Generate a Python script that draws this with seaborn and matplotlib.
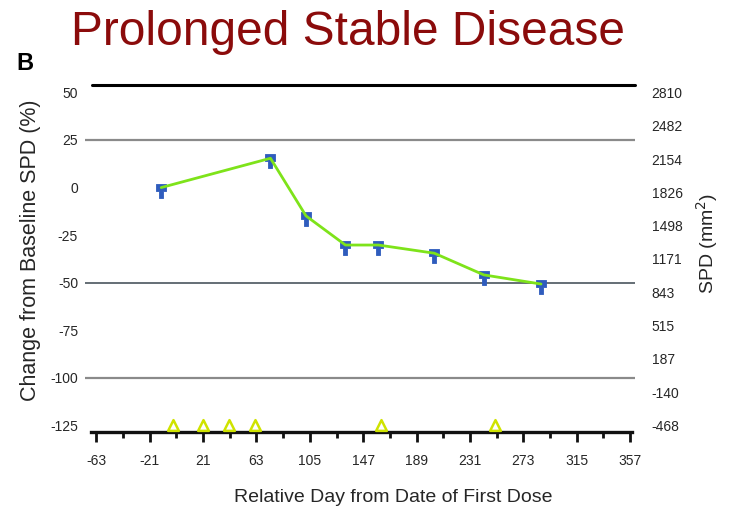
import numpy as np
import pandas as pd
import matplotlib
matplotlib.use("Agg")
import matplotlib.pyplot as plt
from matplotlib.path import Path
from matplotlib.markers import MarkerStyle
import seaborn as sns

# Tumour measurements: relative study day and % change from baseline SPD
assess_days = [-12, 74, 102, 133, 159, 203, 242, 287]
pct_change = [0, 15.4, -14.9, -30.2, -30.2, -34.5, -45.9, -50.7]

# Dosing days marked along the time axis
dose_days = [-3, 21, 41, 62, 161, 251]

# Axis ticks
x_major = [-63, -21, 21, 63, 105, 147, 189, 231, 273, 315, 357]
x_minor = [-42, 0, 42, 84, 126, 168, 210, 252, 294, 336]
left_ticks = [50, 25, 0, -25, -50, -75, -100, -125]
spd_labels = ["2810", "2482", "2154", "1826", "1498", "1171",
              "843", "515", "187", "-140", "-468"]

sns.set_theme(style="white")
plt.rcParams["font.family"] = ["Liberation Sans", "DejaVu Sans"]

fig = plt.figure(figsize=(7.29, 5.12), dpi=100)
ax = fig.add_axes([0.1166, 0.1557, 0.7545, 0.6783])

YMIN, YMAX = -128.6, 53.9
ax.set_xlim(-72, 361)
ax.set_ylim(YMIN, YMAX)

# Horizontal reference lines
ax.axhline(25, color="#8a8a8a", lw=1.6, zorder=1)
ax.axhline(-50, color="#3b4650", lw=1.1, zorder=1)
ax.axhline(-100, color="#8a8a8a", lw=1.6, zorder=1)
ax.axhline(YMAX, xmin=0.012, color="black", lw=2.2, zorder=1, clip_on=False)

# T-shaped measurement marker
t_verts = [(-0.42, 0.32), (0.42, 0.32), (0.42, -0.22), (0.2, -0.22),
           (0.2, -0.8), (-0.2, -0.8), (-0.2, -0.22), (-0.42, -0.22),
           (-0.42, 0.32)]
t_codes = [Path.MOVETO] + [Path.LINETO] * 7 + [Path.CLOSEPOLY]
t_marker = MarkerStyle(Path(t_verts, t_codes))

df = pd.DataFrame({"day": assess_days, "pct": pct_change})
sns.scatterplot(data=df, x="day", y="pct", marker=t_marker, s=190,
                color="#2f5cbd", edgecolor="#2f5cbd", linewidth=0.6,
                ax=ax, zorder=3)
sns.lineplot(data=df, x="day", y="pct", color="#7ee31a", lw=2.0,
             ax=ax, zorder=4)

dose_df = pd.DataFrame({"day": dose_days, "pct": [-125] * len(dose_days)})
sns.scatterplot(data=dose_df, x="day", y="pct", marker="^", s=60,
                facecolor="white", edgecolor="#cfe300", linewidth=1.8,
                ax=ax, zorder=5, clip_on=False)

# Spines and ticks
for side in ["top", "right", "left"]:
    ax.spines[side].set_visible(False)
ax.spines["bottom"].set_color("#111111")
ax.spines["bottom"].set_linewidth(2.4)
ax.spines["bottom"].set_bounds(-67, 359)

ax.set_xticks(x_major)
ax.set_xticklabels([str(v) for v in x_major])
ax.set_xticks(x_minor, minor=True)
ax.tick_params(axis="x", which="major", direction="out", length=7.5,
               width=2.0, color="#111111", pad=8, labelsize=10,
               bottom=True)
ax.tick_params(axis="x", which="minor", direction="out", length=4,
               width=2.0, color="#111111", bottom=True)

ax.set_yticks(left_ticks)
ax.set_yticklabels([str(v) for v in left_ticks])
ax.tick_params(axis="y", length=0, pad=5, labelsize=10)

ax.set_xlabel("Relative Day from Date of First Dose", fontsize=14)
ax.xaxis.set_label_coords(0.56, -0.162)
ax.set_ylabel("Change from Baseline SPD (%)", fontsize=15.5)
ax.yaxis.set_label_coords(-0.08, 0.523)

# Secondary SPD axis sharing the same vertical scale
ax2 = ax.twinx()
ax2.set_ylim(YMIN, YMAX)
right_pos = np.linspace(50, -125, len(spd_labels))
ax2.set_yticks(right_pos)
ax2.set_yticklabels(spd_labels)
ax2.tick_params(axis="y", length=0, pad=12, labelsize=10)
for side in ["top", "right", "left", "bottom"]:
    ax2.spines[side].set_visible(False)
ax2.grid(False)
ax2.set_ylabel("SPD (mm$^2$)", fontsize=14)
ax2.yaxis.set_label_coords(1.108, 0.545)

fig.text(0.477, 0.937, "Prolonged Stable Disease", ha="center", va="center",
         fontsize=34.5, color="#8b0b0b")
fig.text(0.023, 0.876, "B", ha="left", va="center", fontsize=17,
         fontweight="bold", color="black")

fig.savefig("out.png", dpi=100)
